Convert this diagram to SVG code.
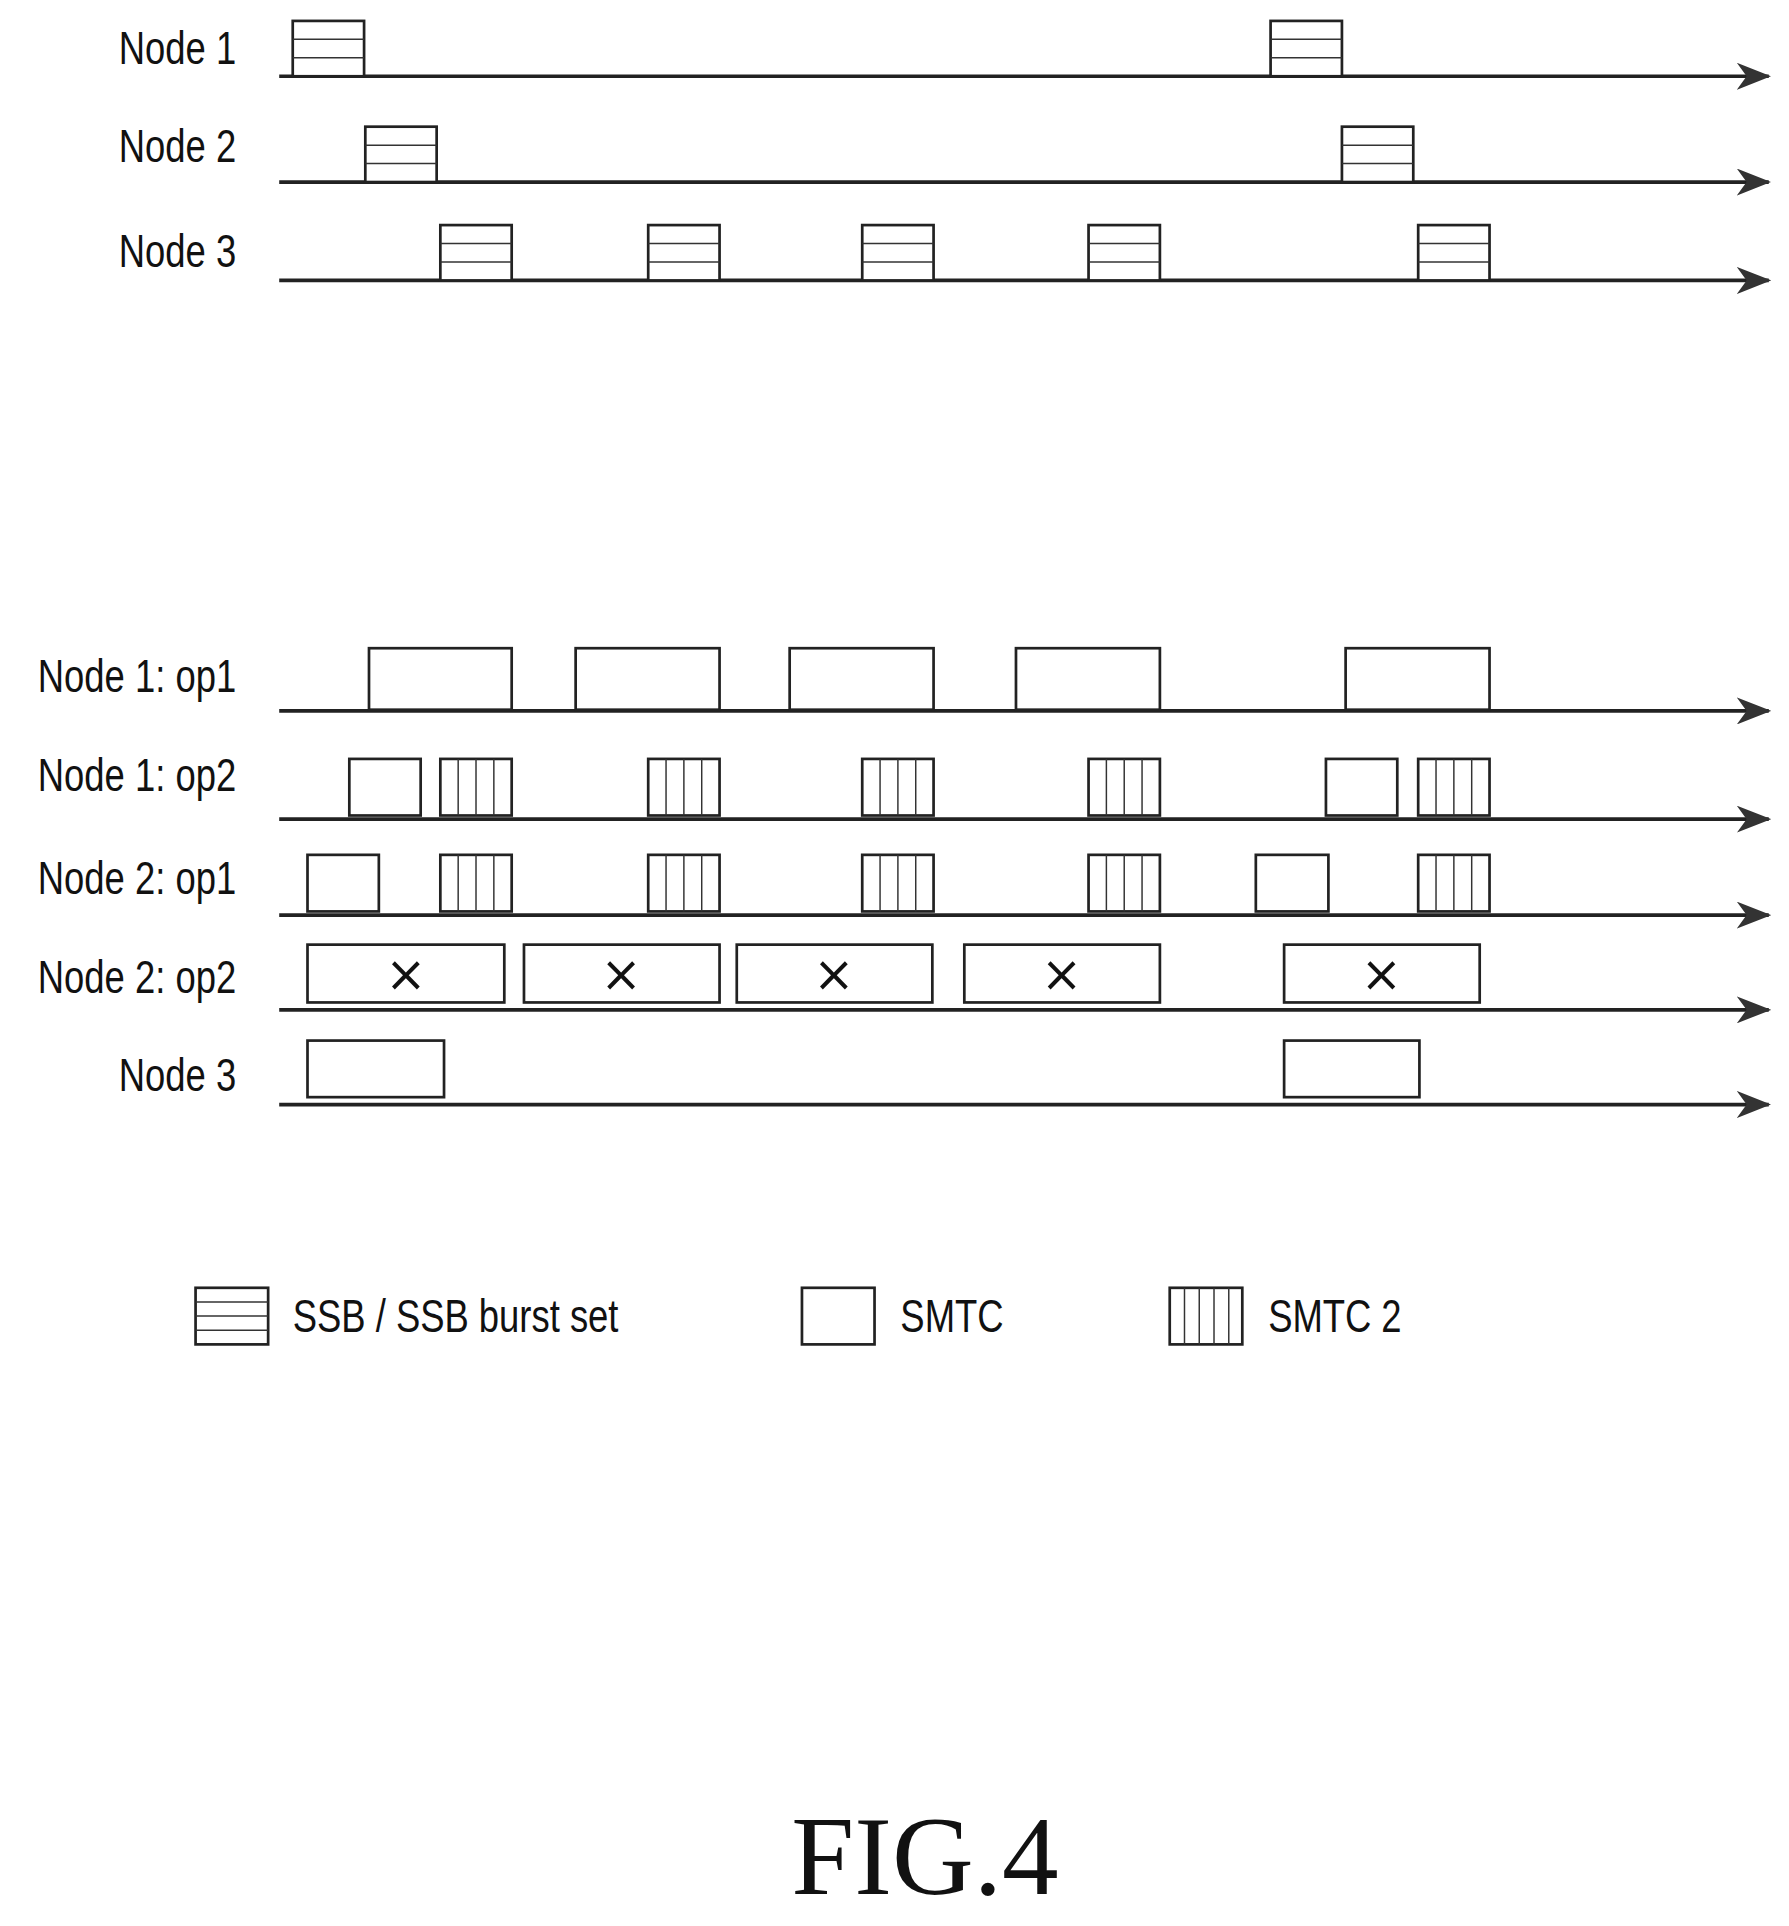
<svg xmlns="http://www.w3.org/2000/svg" width="1789" height="1926" viewBox="0 0 1789 1926">
<style>
.ax{stroke:#222;stroke-width:3;fill:none}
.bx{stroke:#222;stroke-width:2.2;fill:#fff}
.in{stroke:#333;stroke-width:1.2;fill:none}
.lb{font-family:"Liberation Sans",Arial,sans-serif;font-size:37px;fill:#111;text-anchor:end}
.lg{font-family:"Liberation Sans",Arial,sans-serif;font-size:37px;fill:#111}
.x{font-family:"DejaVu Sans",sans-serif;font-size:40px;fill:#111;text-anchor:middle}
</style>
<defs>
<marker id="ar" markerWidth="28" markerHeight="22" refX="26" refY="11" orient="auto" markerUnits="userSpaceOnUse" viewBox="0 0 28 22">
<path d="M0,0 L28,11 L0,22 L8,11 Z" fill="#333"/>
</marker>
<g id="ssb"><rect class="bx" x="0" y="0" width="58" height="45"/><line class="in" x1="0" y1="15" x2="58" y2="15"/><line class="in" x1="0" y1="30" x2="58" y2="30"/></g>
<g id="sm2"><rect class="bx" x="0" y="0" width="58" height="46"/><line class="in" x1="14.5" y1="0" x2="14.5" y2="46"/><line class="in" x1="29" y1="0" x2="29" y2="46"/><line class="in" x1="43.5" y1="0" x2="43.5" y2="46"/></g>
</defs>
<rect width="1789" height="1926" fill="#fff"/>
<g transform="scale(1.23)">
<g id="labels">
<g transform="translate(192,0) scale(0.8,1)">
<text class="lb" x="0" y="52">Node 1</text>
<text class="lb" x="0" y="132">Node 2</text>
<text class="lb" x="0" y="217">Node 3</text>
<text class="lb" x="0" y="563">Node 1: op1</text>
<text class="lb" x="0" y="643">Node 1: op2</text>
<text class="lb" x="0" y="727">Node 2: op1</text>
<text class="lb" x="0" y="807">Node 2: op2</text>
<text class="lb" x="0" y="887">Node 3</text>
</g>
</g>
<g id="connectors">
<line class="ax" x1="227" y1="62" x2="1438" y2="62" marker-end="url(#ar)"/>
<line class="ax" x1="227" y1="148" x2="1438" y2="148" marker-end="url(#ar)"/>
<line class="ax" x1="227" y1="228" x2="1438" y2="228" marker-end="url(#ar)"/>
<line class="ax" x1="227" y1="578" x2="1438" y2="578" marker-end="url(#ar)"/>
<line class="ax" x1="227" y1="666" x2="1438" y2="666" marker-end="url(#ar)"/>
<line class="ax" x1="227" y1="744" x2="1438" y2="744" marker-end="url(#ar)"/>
<line class="ax" x1="227" y1="821" x2="1438" y2="821" marker-end="url(#ar)"/>
<line class="ax" x1="227" y1="898" x2="1438" y2="898" marker-end="url(#ar)"/>
</g>
<g id="node1">
<use href="#ssb" x="238" y="17"/><use href="#ssb" x="1033" y="17"/>
</g>
<g id="node2">
<use href="#ssb" x="297" y="103"/><use href="#ssb" x="1091" y="103"/>
</g>
<g id="node3">
<use href="#ssb" x="358" y="183"/><use href="#ssb" x="527" y="183"/><use href="#ssb" x="701" y="183"/><use href="#ssb" x="885" y="183"/><use href="#ssb" x="1153" y="183"/>
</g>
<g id="n1op1">
<rect class="bx" x="300" y="527" width="116" height="50"/>
<rect class="bx" x="468" y="527" width="117" height="50"/>
<rect class="bx" x="642" y="527" width="117" height="50"/>
<rect class="bx" x="826" y="527" width="117" height="50"/>
<rect class="bx" x="1094" y="527" width="117" height="50"/>
</g>
<g id="n1op2">
<rect class="bx" x="284" y="617" width="58" height="46"/>
<use href="#sm2" x="358" y="617"/><use href="#sm2" x="527" y="617"/><use href="#sm2" x="701" y="617"/><use href="#sm2" x="885" y="617"/>
<rect class="bx" x="1078" y="617" width="58" height="46"/>
<use href="#sm2" x="1153" y="617"/>
</g>
<g id="n2op1">
<rect class="bx" x="250" y="695" width="58" height="46"/>
<use href="#sm2" x="358" y="695"/><use href="#sm2" x="527" y="695"/><use href="#sm2" x="701" y="695"/><use href="#sm2" x="885" y="695"/>
<rect class="bx" x="1021" y="695" width="59" height="46"/>
<use href="#sm2" x="1153" y="695"/>
</g>
<g id="n2op2">
<rect class="bx" x="250" y="768" width="160" height="47"/><text class="x" x="330" y="806">×</text>
<rect class="bx" x="426" y="768" width="159" height="47"/><text class="x" x="505" y="806">×</text>
<rect class="bx" x="599" y="768" width="159" height="47"/><text class="x" x="678" y="806">×</text>
<rect class="bx" x="784" y="768" width="159" height="47"/><text class="x" x="863" y="806">×</text>
<rect class="bx" x="1044" y="768" width="159" height="47"/><text class="x" x="1123" y="806">×</text>
</g>
<g id="n3b">
<rect class="bx" x="250" y="846" width="111" height="46"/>
<rect class="bx" x="1044" y="846" width="110" height="46"/>
</g>
<g id="legend">
<g transform="translate(159,1047)"><rect class="bx" x="0" y="0" width="59" height="46"/><line class="in" x1="0" y1="11.5" x2="59" y2="11.5"/><line class="in" x1="0" y1="23" x2="59" y2="23"/><line class="in" x1="0" y1="34.5" x2="59" y2="34.5"/></g>
<g transform="translate(238,1083) scale(0.8,1)"><text class="lg" x="0" y="0">SSB / SSB burst set</text></g>
<rect class="bx" x="652" y="1047" width="59" height="46"/>
<g transform="translate(732,1083) scale(0.8,1)"><text class="lg" x="0" y="0">SMTC</text></g>
<g transform="translate(951,1047)"><rect class="bx" x="0" y="0" width="59" height="46"/><line class="in" x1="12" y1="0" x2="12" y2="46"/><line class="in" x1="24" y1="0" x2="24" y2="46"/><line class="in" x1="36" y1="0" x2="36" y2="46"/><line class="in" x1="48" y1="0" x2="48" y2="46"/></g>
<g transform="translate(1031,1083) scale(0.8,1)"><text class="lg" x="0" y="0">SMTC 2</text></g>
</g>
<text x="752" y="1540" font-family="Liberation Serif,Times New Roman,serif" font-size="92" fill="#111" text-anchor="middle">FIG.4</text>
</g>
</svg>
